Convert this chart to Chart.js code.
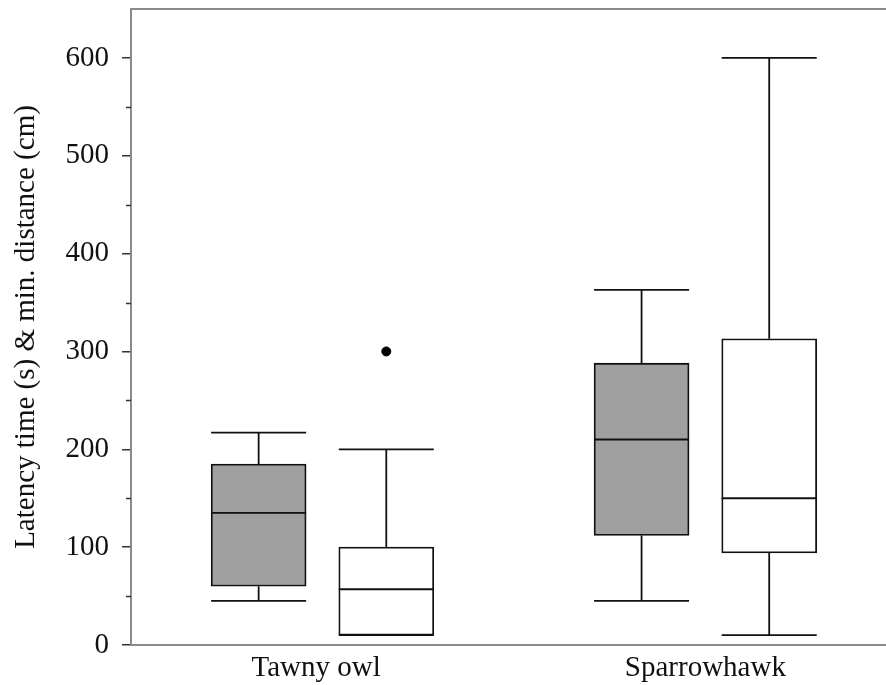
<!DOCTYPE html>
<html><head><meta charset="utf-8">
<script src="https://cdn.jsdelivr.net/npm/chart.js@4/dist/chart.umd.min.js"></script>
<style>html,body{margin:0;padding:0;background:#fff}#wrap{width:886px;height:685px}</style>
</head><body><div id="wrap"><canvas id="c"></canvas></div>
<script>
const categories = ['Tawny owl', 'Sparrowhawk'];
const categoryPositions = [1.45, 4.5];
const seriesNames = ['Latency time (s)', 'Min. distance (cm)'];
const boxPositionsLatency = [1, 4];
const boxPositionsDistance = [2, 5];
const latencyMin = [45, 45];
const latencyQ1 = [60, 112];
const latencyMedian = [135, 210];
const latencyQ3 = [185, 288];
const latencyMax = [217, 363];
const distanceMin = [10, 10];
const distanceQ1 = [10, 94];
const distanceMedian = [57, 150];
const distanceQ3 = [100, 313];
const distanceMax = [200, 600];
const outlierX = [2];
const outlierY = [300];
const yTicks = [0, 100, 200, 300, 400, 500, 600];
const yMinorTicks = [50, 150, 250, 350, 450, 550];
const yMax = 650;
const xMax = 5.915;

const FONT = "'Liberation Serif', 'Times New Roman', serif";
const INK = '#111111';
const AXIS = '#8a8a8a';

const whiskerPlugin = {
  id: 'whiskers',
  afterDatasetsDraw(chart) {
    const ctx = chart.ctx, ys = chart.scales.y;
    const sets = [
      { meta: chart.getDatasetMeta(0), mn: latencyMin, q1: latencyQ1, md: latencyMedian, q3: latencyQ3, mx: latencyMax },
      { meta: chart.getDatasetMeta(1), mn: distanceMin, q1: distanceQ1, md: distanceMedian, q3: distanceQ3, mx: distanceMax }
    ];
    const line = (x1, y1, x2, y2) => { ctx.beginPath(); ctx.moveTo(x1, y1); ctx.lineTo(x2, y2); ctx.stroke(); };
    ctx.save();
    ctx.strokeStyle = INK;
    ctx.lineWidth = 1.8;
    sets.forEach(s => s.meta.data.forEach((bar, i) => {
      const cx = bar.x, h = bar.width / 2;
      const pMn = ys.getPixelForValue(s.mn[i]);
      const pQ1 = ys.getPixelForValue(s.q1[i]);
      const pMd = ys.getPixelForValue(s.md[i]);
      const pQ3 = ys.getPixelForValue(s.q3[i]);
      const pMx = ys.getPixelForValue(s.mx[i]);
      line(cx, pQ3, cx, pMx); line(cx - h, pMx, cx + h, pMx);
      line(cx, pQ1, cx, pMn); line(cx - h, pMn, cx + h, pMn);
      line(cx - h, pMd, cx + h, pMd);
    }));
    // minor ticks on y axis
    ctx.strokeStyle = '#333';
    ctx.lineWidth = 1.5;
    const left = chart.chartArea.left;
    yMinorTicks.forEach(v => {
      const p = Math.round(ys.getPixelForValue(v)) + 0.5;
      line(left - 5, p, left, p);
    });
    ctx.restore();
  }
};

new Chart(document.getElementById('c'), {
  type: 'bar',
  data: {
    datasets: [
      {
        label: seriesNames[0],
        data: boxPositionsLatency.map((x, i) => ({ x: x, y: [latencyQ1[i], latencyQ3[i]] })),
        backgroundColor: '#a0a0a0',
        borderColor: INK,
        borderWidth: 1.8,
        borderSkipped: false,
        barThickness: 95,
        grouped: false
      },
      {
        label: seriesNames[1],
        data: boxPositionsDistance.map((x, i) => ({ x: x, y: [distanceQ1[i], distanceQ3[i]] })),
        backgroundColor: '#ffffff',
        borderColor: INK,
        borderWidth: 1.8,
        borderSkipped: false,
        barThickness: 95,
        grouped: false
      },
      {
        type: 'scatter',
        label: 'Outlier',
        data: outlierX.map((x, i) => ({ x: x, y: outlierY[i] })),
        backgroundColor: '#000',
        borderColor: '#000',
        pointRadius: 4.5,
        pointHoverRadius: 4.5
      }
    ]
  },
  options: {
    responsive: true,
    maintainAspectRatio: false,
    animation: false,
    events: [],
    layout: { autoPadding: false, padding: { top: 9, right: 0, bottom: 0, left: 0 } },
    plugins: { legend: { display: false }, tooltip: { enabled: false } },
    scales: {
      x: {
        type: 'linear',
        position: 'bottom',
        min: 0,
        max: xMax,
        offset: false,
        afterBuildTicks: s => { s.ticks = categoryPositions.map(v => ({ value: v })); },
        afterFit: s => { s.height = 40; s.paddingLeft = 0; s.paddingRight = 0; },
        ticks: {
          autoSkip: false,
          maxRotation: 0,
          padding: 6,
          color: INK,
          font: { family: FONT, size: 29 },
          callback: (v) => { const i = categoryPositions.indexOf(v); return i >= 0 ? categories[i] : ''; }
        },
        grid: { display: false, drawTicks: false },
        border: { display: true, color: AXIS, width: 2 }
      },
      xTop: {
        type: 'linear',
        position: 'top',
        min: 0,
        max: 1,
        afterFit: s => { s.height = 0; s.paddingLeft = 0; s.paddingRight = 0; },
        ticks: { display: false },
        grid: { display: false, drawTicks: false },
        border: { display: true, color: AXIS, width: 2 }
      },
      y: {
        type: 'linear',
        min: 0,
        max: yMax,
        afterBuildTicks: s => { s.ticks = yTicks.map(v => ({ value: v })); },
        afterFit: s => { s.width = 131; s.paddingTop = 0; s.paddingBottom = 0; },
        ticks: {
          padding: 13,
          color: INK,
          font: { family: FONT, size: 29 }
        },
        grid: { display: true, drawOnChartArea: false, drawTicks: true, tickLength: 9, color: '#333', lineWidth: 1.5 },
        border: { display: true, color: AXIS, width: 2 },
        title: {
          display: true,
          text: 'Latency time (s) & min. distance (cm)',
          color: INK,
          font: { family: FONT, size: 29 },
          padding: { top: 9, bottom: 0 }
        }
      }
    }
  },
  plugins: [whiskerPlugin]
});
</script>
</body></html>
